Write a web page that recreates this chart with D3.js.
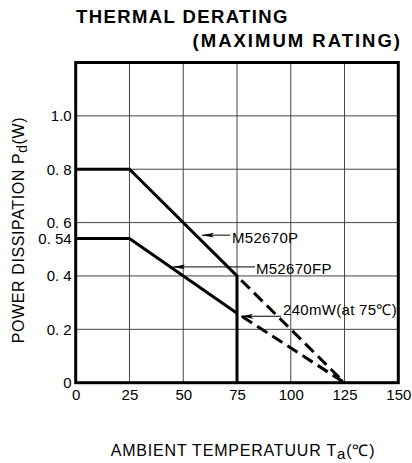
<!DOCTYPE html>
<html>
<head>
<meta charset="utf-8">
<script src="https://cdn.jsdelivr.net/npm/d3@7"></script>
<style>
  body { margin: 0; background: #fff; }
  text { font-family: "Liberation Sans", Arial, sans-serif; fill: #000; }
</style>
</head>
<body>
<div id="chart"></div>
<script>
// data
const temps = [0, 25, 75, 75];
const pSeries = [0.8, 0.8, 0.4, 0];
const fpTemps = [0, 25, 75];
const fpSeries = [0.54, 0.54, 0.26];
const dashTemps = [75, 125];
const pDash = [0.4, 0];
const fpDash = [0.26, 0];

const xTicks = [0, 25, 50, 75, 100, 125, 150];
const yTicks = [0, 0.2, 0.4, 0.54, 0.6, 0.8, 1.0];
const yLabels = ["0", "0. 2", "0. 4", "0. 54", "0. 6", "0. 8", "1.0"];
const xGrid = [25, 50, 75, 100, 125];
const yGrid = [0.2, 0.4, 0.6, 0.8, 1.0];

var W = 412, H = 463;
var margin = { top: 62.5, right: 13.7, bottom: 80.3, left: 75.7 },
    width = W - margin.left - margin.right,
    height = H - margin.top - margin.bottom;

const svg = d3.select("#chart")
    .append("svg")
    .attr("width", W)
    .attr("height", H);

const g = svg.append("g")
    .attr("transform", `translate(${margin.left},${margin.top})`);

// scales
const x = d3.scaleLinear().domain([0, 150]).range([0, width]);
const y = d3.scaleLinear().domain([0, 1.2]).range([height, 0]);

// grid
g.append("g").selectAll("line")
    .data(yGrid)
    .join("line")
    .attr("x1", 0).attr("x2", width)
    .attr("y1", d => y(d)).attr("y2", d => y(d))
    .attr("stroke", "#444").attr("stroke-width", 1);
g.append("g").selectAll("line")
    .data(xGrid)
    .join("line")
    .attr("y1", 0).attr("y2", height)
    .attr("x1", d => x(d)).attr("x2", d => x(d))
    .attr("stroke", "#444").attr("stroke-width", 1);

// axes (labels only, frame drawn below)
const yAxis = d3.axisLeft(y)
    .tickValues(yTicks)
    .tickFormat((d, i) => yLabels[i])
    .tickSize(0)
    .tickPadding(4);
const xAxis = d3.axisBottom(x)
    .tickValues(xTicks)
    .tickFormat(d => d)
    .tickSize(0)
    .tickPadding(7);

const ya = g.append("g").call(yAxis);
ya.select(".domain").remove();
ya.selectAll("text").style("font-size", "15px").style("font-family", null);

const xa = g.append("g")
    .attr("transform", `translate(0,${height})`)
    .call(xAxis);
xa.select(".domain").remove();
xa.selectAll("text").style("font-size", "15px").style("font-family", null);

// frame
g.append("rect")
    .attr("x", 0).attr("y", 0)
    .attr("width", width).attr("height", height)
    .attr("fill", "none")
    .attr("stroke", "#000")
    .attr("stroke-width", 3);

// series
const line = d3.line().x(d => x(d[0])).y(d => y(d[1]));

g.append("path")
    .datum(temps.map((t, i) => [t, pSeries[i]]))
    .attr("d", line)
    .attr("fill", "none").attr("stroke", "#000")
    .attr("stroke-width", 3).attr("stroke-linejoin", "miter");

g.append("path")
    .datum(fpTemps.map((t, i) => [t, fpSeries[i]]))
    .attr("d", line)
    .attr("fill", "none").attr("stroke", "#000")
    .attr("stroke-width", 3);

[pDash, fpDash].forEach(function (s) {
    g.append("path")
        .datum(dashTemps.map((t, i) => [t, s[i]]))
        .attr("d", line)
        .attr("fill", "none").attr("stroke", "#000")
        .attr("stroke-width", 3)
        .attr("stroke-dasharray", "12,6")
        .attr("stroke-dashoffset", -6);
});

// arrow marker (tip at the line end)
svg.append("defs").append("marker")
    .attr("id", "arr")
    .attr("viewBox", "0 0 12 6")
    .attr("refX", 12).attr("refY", 3)
    .attr("markerWidth", 12).attr("markerHeight", 6)
    .attr("markerUnits", "userSpaceOnUse")
    .attr("orient", "auto")
    .append("path")
    .attr("d", "M12,3 L0,0.6 L2.5,3 L0,5.4 Z")
    .attr("fill", "#000");

// annotations: [label, arrow tail x, arrow tip x, arrow y, text x, text baseline y]
const notes = [
    ["M52670P", 71.8, 58.7, 0.553, 72.7, 0.524],
    ["M52670FP", 83.4, 45.2, 0.434, 83.8, 0.407],
    ["240mW(at 75\u2103)", 95.5, 76.9, 0.249, 96.4, 0.254]
];
notes.forEach(function (n) {
    g.append("line")
        .attr("x1", x(n[1])).attr("x2", x(n[2]))
        .attr("y1", y(n[3])).attr("y2", y(n[3]))
        .attr("stroke", "#000").attr("stroke-width", 1)
        .attr("marker-end", "url(#arr)");
    g.append("text")
        .attr("x", x(n[4])).attr("y", y(n[5]))
        .style("font-size", "15px")
        .style("letter-spacing", "0.3px")
        .text(n[0]);
});

// title
svg.append("text")
    .attr("x", 76).attr("y", 23)
    .style("font-size", "18.5px").style("font-weight", "bold")
    .style("letter-spacing", "1.4px")
    .text("THERMAL DERATING");
svg.append("text")
    .attr("x", 402).attr("y", 47)
    .attr("text-anchor", "end")
    .style("font-size", "18.5px").style("font-weight", "bold")
    .style("letter-spacing", "2px")
    .text("(MAXIMUM RATING)");

// axis titles
const yt = svg.append("text")
    .attr("transform", "translate(24,230) rotate(-90)")
    .attr("text-anchor", "middle")
    .style("font-size", "16px")
    .style("letter-spacing", "0.6px");
yt.append("tspan").text("POWER DISSIPATION P");
yt.append("tspan").attr("dy", 3).style("font-size", "14px").text("d");
yt.append("tspan").attr("dy", -3).text("(W)");

const xt = svg.append("text")
    .attr("x", 243).attr("y", 456)
    .attr("text-anchor", "middle")
    .style("font-size", "16px")
    .style("letter-spacing", "0.8px");
xt.append("tspan").text("AMBIENT TEMPERATUUR T");
xt.append("tspan").attr("dy", 3).style("font-size", "15px").text("a");
xt.append("tspan").attr("dy", -3).text("(\u2103)");
</script>
</body>
</html>
